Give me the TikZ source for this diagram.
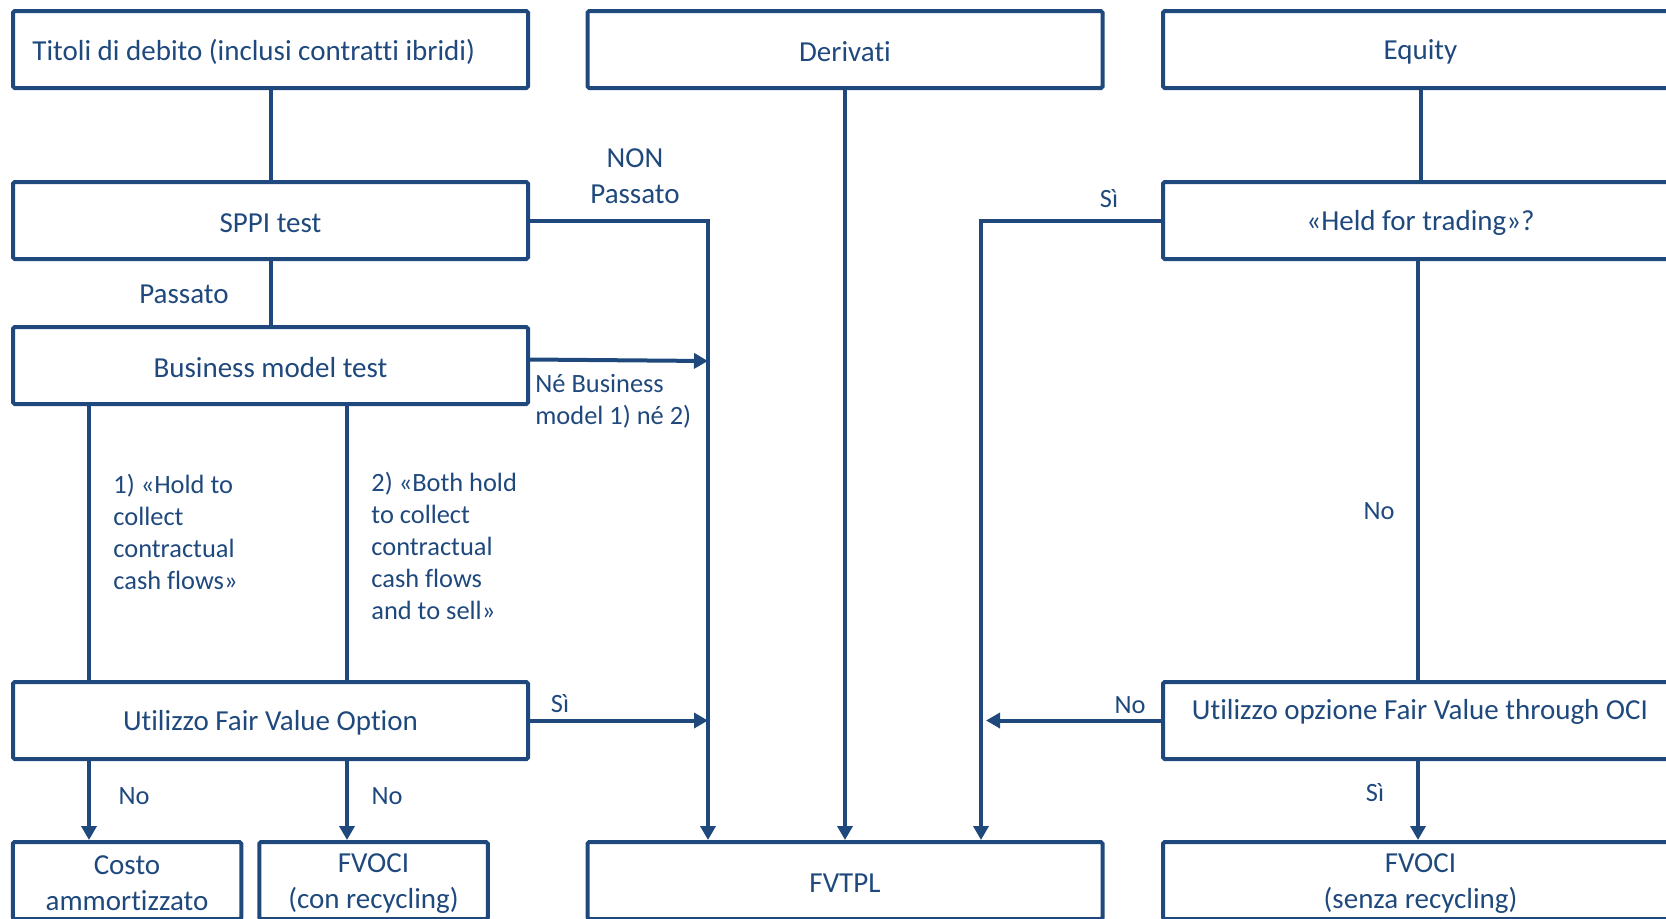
\documentclass[tikz,border=0pt]{standalone}
\usepackage{fontspec}
\setmainfont{Carlito}[Ligatures=NoCommon]
\usetikzlibrary{arrows.meta,calc}
\definecolor{navy}{RGB}{31,73,125}
\begin{document}
\begin{tikzpicture}[x=0.5pt, y=-0.5pt,
  box/.style={draw=navy, line width=2pt, rounded corners=0.8pt,
    minimum width=257.5pt, minimum height=38.5pt, inner sep=0pt},
  smallbox/.style={box, minimum width=114.25pt},
  txt/.style={text=navy, font=\fontsize{14.5}{18}\selectfont, inner sep=0pt, align=center},
  lbl/.style={text=navy, font=\fontsize{13.2}{16}\selectfont, inner sep=0pt, align=left},
  link/.style={draw=navy, line width=2pt},
  arr/.style={link, -{Triangle[length=7pt,width=7.5pt]}}
]
\useasboundingbox (0,0) rectangle (1666,918);
\clip (0,0) rectangle (1666,918);

% column junctions
\coordinate (jx) at (708,0);
\coordinate (jr) at (981,0);
\coordinate (xa) at (89,0);
\coordinate (xb) at (347,0);

% top row
\node[box] (tit) at (270.5,49.5) {};
\node[box] (der) at (845,49.5) {};
\node[box] (equ) at (1420.5,49.5) {};
\node[txt, anchor=west] (titT) at (32,52) {Titoli di debito (inclusi contratti ibridi)};
\node[txt] (derT) at ($(der)+(0,2.5)$) {Derivati};
\node[txt] (equT) at ($(equ)+(0,2.5)$) {Equity};

% tests
\node[box] (sppi) at (270.5,220.5) {};
\node[box] (held) at (1420.5,220.5) {};
\node[box] (bm) at (270.5,365.5) {};
\node[box] (fvo) at (270.5,720.5) {};
\node[box] (oci) at (1420.5,720.5) {};
\node[txt] (sppiT) at ($(sppi)+(0,2.5)$) {SPPI test};
\node[txt] (heldT) at ($(held)+(0,2.5)$) {«Held for trading»?};
\node[txt] (bmT) at ($(bm)+(0,2.5)$) {Business model test};
\node[txt] (fvoT) at ($(fvo)+(0,2.5)$) {Utilizzo Fair Value Option};
\node[txt] (ociT) at (1420,712) {Utilizzo opzione Fair Value through OCI};

% outcomes
\node[smallbox] (costo) at (127,880.5) {};
\node[smallbox] (fvc) at (373.5,880.5) {};
\node[box] (fvtpl) at (845,880.5) {};
\node[box] (fvs) at (1420.5,880.5) {};
\node[txt] (costoT) at ($(costo)+(0,3)$) {Costo\\ammortizzato};
\node[txt] (fvcT) at ($(fvc)+(0,3)$) {FVOCI\\(con recycling)};
\node[txt] (fvtplT) at ($(fvtpl)+(0,2.5)$) {FVTPL};
\node[txt] (fvsT) at ($(fvs)+(0,3)$) {FVOCI\\(senza recycling)};

% connectors
\draw[link] (tit.south) -- (sppi.north);
\draw[link] (sppi.south) -- (bm.north);
\draw[arr] (sppi.east) -| (jx |- fvtpl.north);
\draw[arr] ($(bm.east)+(0,-6)$) -- ($(bm.east -| jx)+(0,-4.5)$);
\draw[arr] (der.south) -- (fvtpl.north);
\draw[link] (equ.south) -- (held.north);
\draw[link] ([xshift=-1.25pt,yshift=2pt]held.south) -- ([xshift=-1.25pt]oci.north);
\draw[arr] (held.west) -| (jr |- fvtpl.north);
\draw[arr, shorten >=2.5pt] (oci.west) -- (oci.west -| jr);
\draw[arr] ([xshift=-1.25pt]oci.south) -- ([xshift=-1.25pt]fvs.north);
\draw[link] (xa |- bm.south) -- (xa |- fvo.north);
\draw[link] (xb |- bm.south) -- (xb |- fvo.north);
\draw[arr] (xa |- fvo.south) -- (xa |- costo.north);
\draw[arr] (xb |- fvo.south) -- (xb |- fvc.north);
\draw[arr] (fvo.east) -- (fvo.east -| jx);

% connector labels
\node[txt] (pass) at (184,294) {Passato};
\node[txt] (nonp) at (635,176) {NON\\Passato};
\node[lbl, anchor=west] (neb) at (535,401) {Né Business\\model 1) né 2)};
\node[lbl, anchor=west] (hold) at (113,532) {1) «Hold to\\collect\\contractual\\cash flows»};
\node[lbl, anchor=west] (both) at (371,546) {2) «Both hold\\to collect\\contractual\\cash flows\\and to sell»};
\node[lbl] (s1) at (560,704) {Sì};
\node[lbl] (n1) at (134,796) {No};
\node[lbl] (n2) at (387,796) {No};
\node[lbl] (s2) at (1109,199) {Sì};
\node[lbl] (n3) at (1379,511) {No};
\node[lbl] (n4) at (1130,705) {No};
\node[lbl] (s3) at (1375,793) {Sì};
\end{tikzpicture}
\end{document}
